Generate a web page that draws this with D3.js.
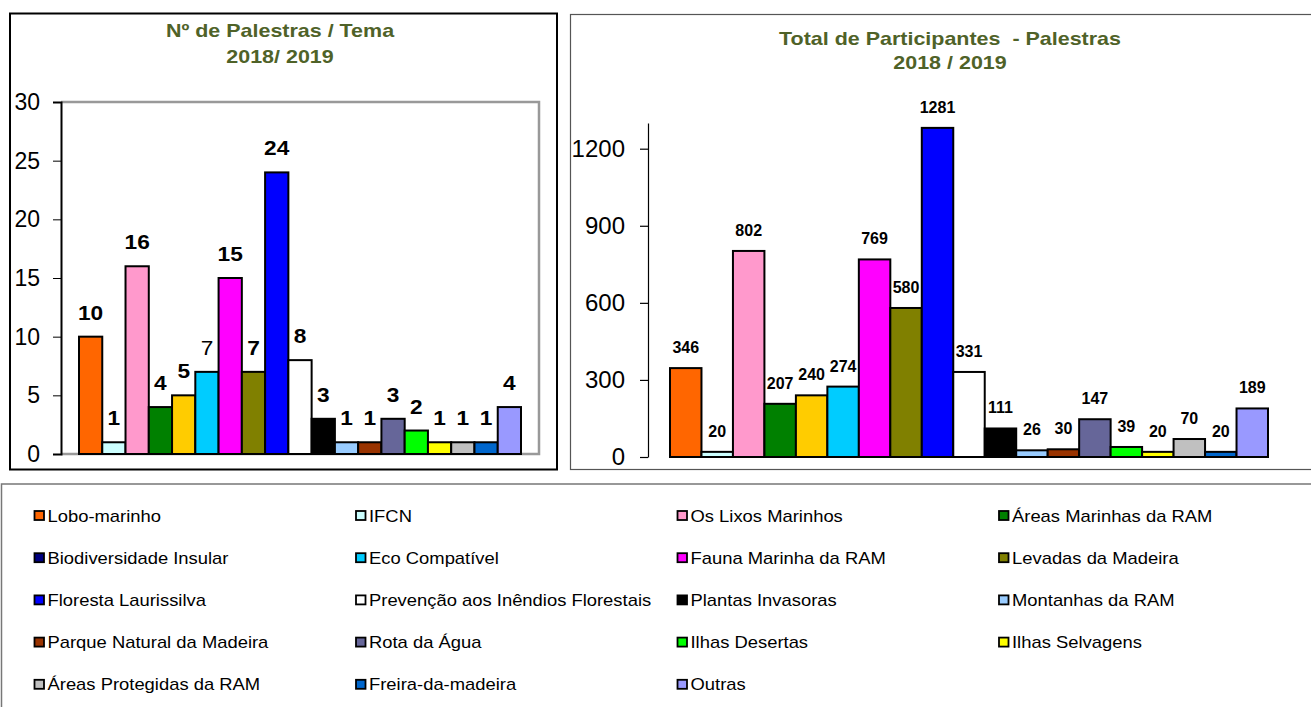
<!DOCTYPE html>
<html>
<head>
<meta charset="utf-8">
<script src="https://cdn.jsdelivr.net/npm/d3@7"></script>
<style>
  html, body { margin: 0; padding: 0; background: #fff; }
  svg { display: block; font-family: "Liberation Sans", Arial, sans-serif; }
</style>
</head>
<body>
<svg id="chart" width="1311" height="707"></svg>
<script>
// ---------- DATA ----------
const categories = [
  "Lobo-marinho", "IFCN", "Os Lixos Marinhos", "Áreas Marinhas da RAM",
  "Biodiversidade Insular", "Eco Compatível", "Fauna Marinha da RAM", "Levadas da Madeira",
  "Floresta Laurissilva", "Prevenção aos Inêndios Florestais", "Plantas Invasoras", "Montanhas da RAM",
  "Parque Natural da Madeira", "Rota da Água", "Ilhas Desertas", "Ilhas Selvagens",
  "Áreas Protegidas da RAM", "Freira-da-madeira", "Outras"
];
const palestras = [10, 1, 16, 4, 5, 7, 15, 7, 24, 8, 3, 1, 1, 3, 2, 1, 1, 1, 4];
const participantes = [346, 20, 802, 207, 240, 274, 769, 580, 1281, 331, 111, 26, 30, 147, 39, 20, 70, 20, 189];
const barColors = [
  "#FF6600", "#CCFFFF", "#FF99CC", "#008000",
  "#FFCC00", "#00CCFF", "#FF00FF", "#808000",
  "#0000FF", "#FFFFFF", "#000000", "#99CCFF",
  "#993300", "#666699", "#00FF00", "#FFFF00",
  "#C0C0C0", "#0066CC", "#9999FF"
];
const legendColors = [
  "#FF6600", "#CCFFFF", "#FF99CC", "#008000",
  "#000080", "#00CCFF", "#FF00FF", "#808000",
  "#0000FF", "#FFFFFF", "#000000", "#99CCFF",
  "#993300", "#666699", "#00FF00", "#FFFF00",
  "#C0C0C0", "#0066CC", "#9999FF"
];
const leftTicks = [0, 5, 10, 15, 20, 25, 30];
const rightTicks = [0, 300, 600, 900, 1200];
const leftTitle = ["Nº de Palestras / Tema", "2018/ 2019"];
const rightTitle = ["Total de Participantes  - Palestras", "2018 / 2019"];

// ---------- DRAW ----------
const svg = d3.select("#chart");
const titleColor = "#4F6228";
const FONT = "'Liberation Sans', Arial, sans-serif";

// ===== Left chart =====
svg.append("rect").attr("x", 10).attr("y", 13.5).attr("width", 547).attr("height", 456)
  .attr("fill", "#fff").attr("stroke", "#000").attr("stroke-width", 2);

const L = svg.append("g");
L.selectAll("text.title").data(leftTitle).join("text")
  .attr("transform", (d, i) => `translate(280,${37 + i * 26}) scale(1.13,1)`)
  .attr("text-anchor", "middle").attr("font-size", 19).attr("font-weight", "bold")
  .attr("fill", titleColor).text(d => d);

const xL = d3.scaleBand().domain(categories).range([79, 521]).padding(0);
const yL = d3.scaleLinear().domain([0, 30]).range([454, 102]);

// plot frame (gray)
L.append("path")
  .attr("d", `M61,102 H539 V454 H61`)
  .attr("fill", "none").attr("stroke", "#999").attr("stroke-width", 2.5);

L.selectAll("rect.bar").data(palestras).join("rect")
  .attr("class", "bar")
  .attr("x", (d, i) => xL(categories[i]))
  .attr("y", d => yL(d))
  .attr("width", xL.bandwidth())
  .attr("height", d => yL(0) - yL(d))
  .attr("fill", (d, i) => barColors[i])
  .attr("stroke", "#000").attr("stroke-width", 2);

const axL = L.append("g").attr("transform", "translate(61,0)")
  .call(d3.axisLeft(yL).tickValues(leftTicks).tickSize(8).tickPadding(13).tickFormat(d3.format("d")));
axL.select(".domain").attr("stroke", "#000").attr("stroke-width", 2);
axL.selectAll(".tick line").attr("stroke", "#000").attr("stroke-width", 1);
axL.selectAll(".tick text").attr("font-size", 23).attr("fill", "#000").attr("font-family", FONT);

const normalWeight = new Set([5]);
L.selectAll("text.lbl").data(palestras).join("text")
  .attr("class", "lbl")
  .attr("transform", (d, i) => `translate(${xL(categories[i]) + xL.bandwidth() / 2},${yL(d) - 17}) scale(1.08,1)`)
  .attr("text-anchor", "middle").attr("font-size", 21)
  .attr("font-weight", (d, i) => normalWeight.has(i) ? "normal" : "bold")
  .attr("fill", "#000").text(d => d);

// ===== Right chart =====
svg.append("rect").attr("x", 570.5).attr("y", 14.5).attr("width", 760).attr("height", 455)
  .attr("fill", "#fff").attr("stroke", "#555").attr("stroke-width", 1.2);

const R = svg.append("g");
R.selectAll("text.title").data(rightTitle).join("text")
  .attr("transform", (d, i) => `translate(950,${45 + i * 24}) scale(1.13,1)`)
  .attr("text-anchor", "middle").attr("font-size", 19).attr("font-weight", "bold")
  .attr("fill", titleColor).style("white-space", "pre")
  .text(d => d);

const xR = d3.scaleBand().domain(categories).range([670, 1268]).padding(0);
const yR = d3.scaleLinear().domain([0, 1300]).range([457, 123]);

R.selectAll("rect.bar").data(participantes).join("rect")
  .attr("class", "bar")
  .attr("x", (d, i) => xR(categories[i]))
  .attr("y", d => yR(d))
  .attr("width", xR.bandwidth())
  .attr("height", d => yR(0) - yR(d))
  .attr("fill", (d, i) => barColors[i])
  .attr("stroke", "#000").attr("stroke-width", 2);

const axR = R.append("g").attr("transform", "translate(648,0)")
  .call(d3.axisLeft(yR).tickValues(rightTicks).tickSize(8).tickPadding(15).tickSizeOuter(0).tickFormat(d3.format("d")));
axR.select(".domain").attr("stroke", "#000").attr("stroke-width", 1.2);
axR.selectAll(".tick line").attr("stroke", "#000").attr("stroke-width", 1.2);
axR.selectAll(".tick text").attr("font-size", 24).attr("fill", "#000").attr("font-family", FONT);

R.selectAll("text.lbl").data(participantes).join("text")
  .attr("class", "lbl")
  .attr("x", (d, i) => xR(categories[i]) + xR.bandwidth() / 2)
  .attr("y", d => yR(d) - 15)
  .attr("text-anchor", "middle").attr("font-size", 16).attr("font-weight", "bold")
  .attr("fill", "#000").text(d => d);

// ===== Legend =====
svg.append("rect").attr("x", 1.5).attr("y", 484).attr("width", 1330).attr("height", 240)
  .attr("fill", "#fff").attr("stroke", "#777").attr("stroke-width", 1.5);

const colX = [34, 355.5, 677, 998.5];
const rowY = 515.5;
const rowStep = 42.2;
const lg = svg.append("g").selectAll("g.item").data(categories).join("g")
  .attr("class", "item")
  .attr("transform", (d, i) => `translate(${colX[i % 4]},${rowY + Math.floor(i / 4) * rowStep})`);
lg.append("rect").attr("x", 0.5).attr("y", -4.5).attr("width", 9.5).attr("height", 9)
  .attr("fill", (d, i) => legendColors[i]).attr("stroke", "#000").attr("stroke-width", 1.8);
lg.append("text").attr("transform", "translate(13.5,6) scale(1.15,1)")
  .attr("font-size", 16).attr("fill", "#000").text(d => d);
</script>
</body>
</html>
